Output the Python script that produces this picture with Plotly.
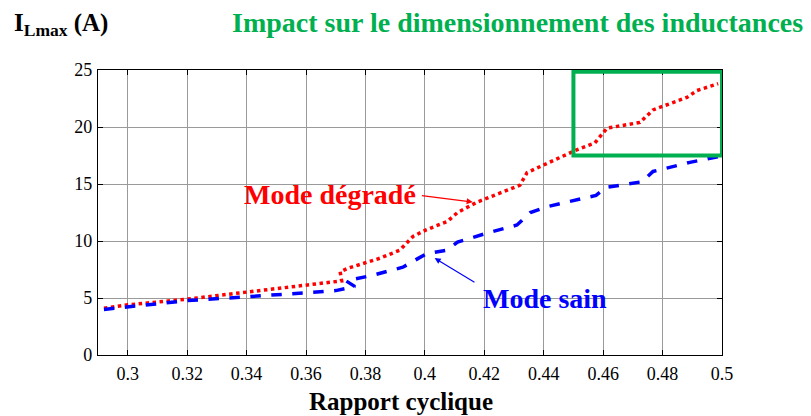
import plotly.graph_objects as go

# Mode dégradé (red dotted)
deg_x = [0.292, 0.300, 0.320, 0.340, 0.360, 0.372, 0.3715, 0.374, 0.385, 0.3916, 0.396, 0.4006,
         0.4075, 0.411, 0.4175, 0.4286, 0.432, 0.4344, 0.441, 0.4511, 0.4572, 0.4613, 0.4724,
         0.4768, 0.4882, 0.4916, 0.4987]
deg_y = [4.1, 4.4, 4.9, 5.5, 6.1, 6.5, 7.3, 7.6, 8.5, 9.2, 10.4, 11.0,
         11.7, 12.5, 13.4, 14.5, 14.9, 16.0, 16.8, 18.0, 18.6, 19.9, 20.4,
         21.5, 22.6, 23.2, 23.8]

# Mode sain (blue dashed)
sain_x = [0.292, 0.320, 0.340, 0.360, 0.370, 0.3765, 0.3735, 0.3825, 0.3926, 0.4006, 0.4075,
          0.411, 0.421, 0.431, 0.4355, 0.441, 0.4576, 0.461, 0.4731, 0.4768, 0.4892, 0.4987]
sain_y = [4.0, 4.77, 5.1, 5.5, 5.65, 6.0, 6.5, 7.0, 7.7, 8.9, 9.2,
          9.9, 10.7, 11.4, 12.5, 13.0, 14.0, 14.7, 15.2, 16.1, 16.9, 17.4]

x_ticks = [0.3, 0.32, 0.34, 0.36, 0.38, 0.4, 0.42, 0.44, 0.46, 0.48, 0.5]
x_labels = ["0.3", "0.32", "0.34", "0.36", "0.38", "0.4", "0.42", "0.44", "0.46", "0.48", "0.5"]
y_ticks = [0, 5, 10, 15, 20, 25]

FONT = "Liberation Serif, Times New Roman, serif"
GREEN = "#00b050"

fig = go.Figure()
fig.add_trace(go.Scatter(x=deg_x, y=deg_y, mode="lines",
                         line=dict(color="#ff0000", width=3.5, dash="dot"), showlegend=False))
fig.add_trace(go.Scatter(x=sain_x, y=sain_y, mode="lines",
                         line=dict(color="#0000ff", width=3.5, dash="dash"), showlegend=False))

fig.add_shape(type="rect", x0=0.45, x1=0.5, y0=17.5, y1=24.85, xref="x", yref="y",
              line=dict(color=GREEN, width=4))

annotations = [
    dict(x=0.368, y=14.05, xref="x", yref="y", text="<b>Mode dégradé</b>", showarrow=False,
         font=dict(family=FONT, size=28, color="#ff0000")),
    dict(x=0.4161, y=13.42, ax=0.3985, ay=14.0, xref="x", yref="y", axref="x", ayref="y",
         text="", showarrow=True, arrowhead=2, arrowsize=1, arrowwidth=1.2, arrowcolor="#ff0000"),
    dict(x=0.4404, y=5.0, xref="x", yref="y", text="<b>Mode sain</b>", showarrow=False,
         font=dict(family=FONT, size=28, color="#0000ff")),
    dict(x=0.4033, y=8.5, ax=0.4172, ay=6.3, xref="x", yref="y", axref="x", ayref="y",
         text="", showarrow=True, arrowhead=2, arrowsize=1, arrowwidth=1.2, arrowcolor="#0000ff"),
    dict(x=1.133, y=1.168, xref="paper", yref="paper", xanchor="right", yanchor="middle",
         text="<b>Impact sur le dimensionnement des inductances</b>", showarrow=False,
         font=dict(family=FONT, size=28, color=GREEN)),
    dict(x=0.4868, y=25.5, ax=0.4697, ay=27.2, xref="x", yref="y", axref="x", ayref="y",
         text="", showarrow=True, arrowhead=2, arrowsize=1, arrowwidth=3, arrowcolor=GREEN),
    dict(x=-0.138, y=1.158, xref="paper", yref="paper", xanchor="left", yanchor="middle",
         text="<b>I<sub>Lmax</sub> (A)</b>", showarrow=False,
         font=dict(family=FONT, size=25, color="black")),
    dict(x=0.486, y=-0.163, xref="paper", yref="paper", xanchor="center", yanchor="middle",
         text="<b>Rapport cyclique</b>", showarrow=False,
         font=dict(family=FONT, size=25, color="black")),
]

# page body has an 8px margin: compensate so the plot area lands at x 98-722, y 70-355
fig.update_layout(
    width=803, height=408,
    margin=dict(l=90, r=89, t=62, b=61),
    paper_bgcolor="white", plot_bgcolor="white",
    annotations=annotations,
    font=dict(family=FONT, size=16, color="black"),
)
fig.update_xaxes(range=[0.29, 0.5], tickvals=x_ticks, ticktext=x_labels,
                 showgrid=True, gridcolor="#9a9a9a", gridwidth=1,
                 showline=True, linecolor="black", linewidth=1.2, mirror="ticks",
                 ticks="inside", ticklen=5, tickcolor="black", zeroline=False,
                 ticklabelstandoff=2, tickfont=dict(family=FONT, size=18))
fig.update_yaxes(range=[0, 25], tickvals=y_ticks,
                 showgrid=True, gridcolor="#9a9a9a", gridwidth=1,
                 showline=True, linecolor="black", linewidth=1.2, mirror="ticks",
                 ticks="inside", ticklen=5, tickcolor="black", zeroline=False,
                 ticklabelstandoff=1, tickfont=dict(family=FONT, size=18))

fig.write_html("out.html")
